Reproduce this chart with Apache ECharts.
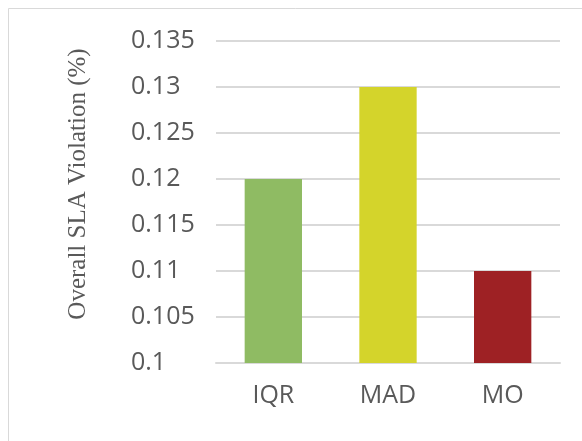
<!DOCTYPE html>
<html>
<head>
<meta charset="utf-8">
<style>
  html, body { margin: 0; padding: 0; background: #fff; }
  #chart { width: 582px; height: 441px; }
</style>
<script src="https://cdn.jsdelivr.net/npm/echarts@6/dist/echarts.min.js"></script>
</head>
<body>
<div id="chart"></div>
<script>
// Overall SLA violation per outlier-detection method
const methods = ['IQR', 'MAD', 'MO'];
const slaViolation = [0.12, 0.13, 0.11];
const barColors = ['#8fbb63', '#d4d42b', '#9e2124'];
const yTitle = 'Overall SLA Violation (%)';

const chart = echarts.init(document.getElementById('chart'), null, { renderer: 'canvas' });

chart.setOption({
  animation: false,
  backgroundColor: '#ffffff',
  grid: { left: 216, right: 22, top: 41, bottom: 78, containLabel: false },
  graphic: [
    {
      type: 'rect',
      shape: { x: 8.5, y: 8.5, width: 580, height: 440 },
      style: { fill: 'none', stroke: '#d9d9d9', lineWidth: 1 },
      silent: true
    },
    {
      type: 'text',
      x: 78,
      y: 184,
      rotation: Math.PI / 2,
      style: {
        text: yTitle,
        font: '25px "Liberation Serif", "Times New Roman", serif',
        fill: '#595959',
        align: 'center',
        verticalAlign: 'middle'
      },
      silent: true
    }
  ],
  xAxis: {
    type: 'category',
    data: methods,
    axisLine: { show: true, lineStyle: { color: '#d9d9d9', width: 2 } },
    axisTick: { show: false },
    axisLabel: {
      color: '#595959',
      fontFamily: '"Open Sans", sans-serif',
      fontSize: 25,
      margin: 20
    }
  },
  yAxis: {
    type: 'value',
    min: 0.1,
    max: 0.135,
    interval: 0.005,
    axisLine: { show: false },
    axisTick: { show: false },
    splitLine: { lineStyle: { color: '#d9d9d9', width: 2 } },
    axisLabel: {
      color: '#595959',
      fontFamily: '"Open Sans", sans-serif',
      fontSize: 25,
      align: 'left',
      margin: 85,
      formatter: v => String(parseFloat(v.toFixed(3)))
    }
  },
  series: [{
    type: 'bar',
    barWidth: '50%',
    data: slaViolation.map((v, i) => ({ value: v, itemStyle: { color: barColors[i] } }))
  }]
});
</script>
</body>
</html>
